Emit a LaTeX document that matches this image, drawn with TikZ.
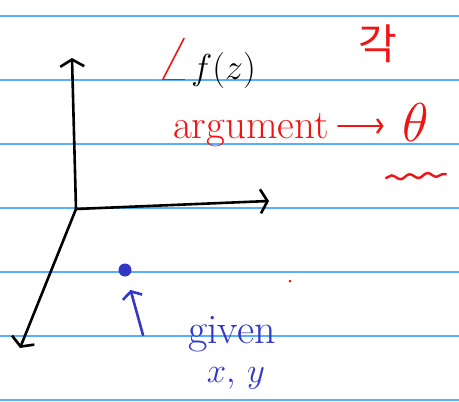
\documentclass[tikz,border=0pt]{standalone}
\usepackage{fontspec}
\newfontfamily\kofont{Noto Sans CJK KR}
\usetikzlibrary{arrows.meta,decorations.pathmorphing}
\definecolor{inkred}{RGB}{240,20,20}
\definecolor{inkblue}{RGB}{50,55,200}
\definecolor{rulecol}{RGB}{90,175,250}
\tikzset{
  rule/.style={rulecol, line width=1.4pt},
  axs/.style={-{Straight Barb[length=7pt, width=24pt]}, line width=2.6pt, line cap=round, line join=round},
  barr/.style={-{Straight Barb[length=6pt, width=20pt]}, inkblue, line width=2.6pt, line cap=round, line join=round},
  rarr/.style={-{Straight Barb[length=5pt, width=14pt]}, inkred, line width=2.4pt, line cap=round},
  rtxt/.style={text=inkred, inner sep=1pt},
  btxt/.style={text=inkblue, inner sep=1pt},
  wig/.style={inkred, line width=2.4pt, line cap=round, decorate,
      decoration={snake, amplitude=2.2pt, segment length=18pt}},
}

\begin{document}
\begin{tikzpicture}[x=1pt, y=-1pt]
  \useasboundingbox[fill=white] (0,0) rectangle (459,402);
  % ruled paper
  \foreach \y in {16,80,144,208,272,336,400}
    \draw[rule] (0,\y) -- (459,\y);
  % axes
  \coordinate (O) at (76,209);
  \coordinate (yend) at (72,58);
  \coordinate (xend) at (269,201);
  \coordinate (zend) at (20,348);
  \draw[axs] (O) -- (yend);
  \draw[axs] (O) -- (xend);
  \draw[axs] (O) -- (zend);
  % labels
  \node (ang) at (206,64) {\scalebox{1.45}{\Huge $\textcolor{inkred}{\scalebox{1.5}{$\angle$}}f(z)$}};
  \node[rtxt] (arg) at (251,130) {\fontsize{41}{44}\selectfont argument};
  \node[rtxt] (theta) at (416,122) {\scalebox{2.2}{\Huge $\theta$}};
  \coordinate (atail) at ([xshift=8pt, yshift=4pt]arg.east);
  \draw[rarr, shorten >=18pt] (atail) -- (theta.west |- atail);
  \draw[wig] (386,178) -- (446,174);
  \node[rtxt] (gak) at (378,44) {\kofont\fontsize{42}{44}\selectfont 각};
  \node[circle, fill=inkred, inner sep=0pt, minimum size=3pt] (rdot) at (290,281) {};
  % given point
  \node[circle, fill=inkblue, inner sep=0pt, minimum size=13pt] (pt) at (125,270) {};
  \coordinate (gtail) at (143,335);
  \draw[barr, shorten >=14pt] (gtail) -- (pt);
  \node[btxt] (giv) at (232,334) {\fontsize{42}{44}\selectfont given};
  \node[btxt] (xy) at (236,378) {\scalebox{1.4}{\Huge $x,\,y$}};
\end{tikzpicture}
\end{document}
